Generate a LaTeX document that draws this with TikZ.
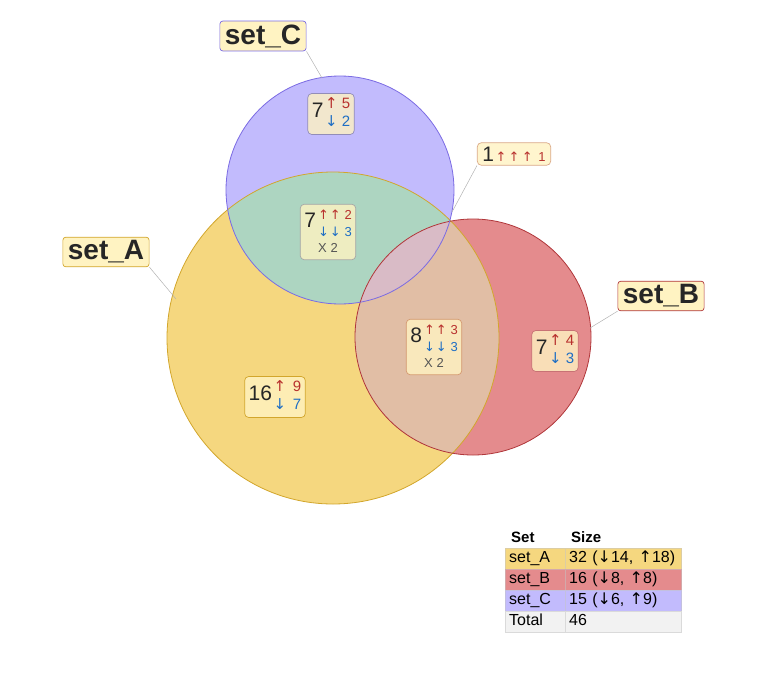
\documentclass[tikz,border=0pt]{standalone}
\usepackage{fontspec}
\setmainfont{Liberation Sans}
\newfontfamily\arrfont{DejaVu Sans}
\usetikzlibrary{positioning}

\definecolor{fillA}{HTML}{F5D77F}
\definecolor{fillB}{HTML}{E48B8D}
\definecolor{fillC}{HTML}{C2BBFD}
\definecolor{fillAC}{HTML}{ADD5C1}
\definecolor{fillAB}{HTML}{E1BEA5}
\definecolor{fillABC}{HTML}{D9BBC6}
\definecolor{lineA}{HTML}{D2A62C}
\definecolor{lineB}{HTML}{B0363A}
\definecolor{lineC}{HTML}{7B6BE3}
\definecolor{labelfill}{HTML}{FFF3C2}
\definecolor{upred}{HTML}{B8312E}
\definecolor{dnblue}{HTML}{1E6EC4}
\definecolor{xgrey}{HTML}{555555}
\definecolor{totalfill}{HTML}{F2F2F2}

\tikzstyle{setcircle} = [line width=0.8pt]
\tikzstyle{count} = [rectangle, rounded corners=4pt, fill=labelfill, fill opacity=0.8, text opacity=1, inner xsep=4pt, inner ysep=3pt, line width=0.7pt, text=black!85]
\tikzstyle{setname} = [rectangle, rounded corners=3pt, fill=labelfill, inner xsep=5pt, inner ysep=3.5pt, line width=0.7pt, text=black!85, font=\fontsize{28}{28}\selectfont\bfseries]
\tikzstyle{leader} = [draw=black!30, line width=0.5pt]
\tikzset{cell/.style={rectangle, anchor=north west, draw=#1!80!black!60, fill=#1, minimum height=21pt, text height=11.5pt, text depth=3.5pt, inner xsep=4pt, inner ysep=0pt, align=left, font=\fontsize{16}{16}\selectfont},
  head/.style={rectangle, anchor=west, inner xsep=0pt, font=\fontsize{15}{15}\selectfont\bfseries}}

\newcommand{\circA}{(333,338) circle[radius=166]}
\newcommand{\circB}{(473,337) circle[radius=118]}
\newcommand{\circC}{(340,190) circle[radius=114]}
\newcommand{\num}[1]{{\fontsize{21}{21}\selectfont #1}}
\newcommand{\ups}[2]{\textcolor{upred}{{\arrfont #1} #2}}
\newcommand{\dns}[2]{\textcolor{dnblue}{{\arrfont #1} #2}}
\newcommand{\two}[2]{{\fontsize{15}{17.5}\selectfont\begin{tabular}{@{}l@{}}#1\\#2\end{tabular}}}
\newcommand{\twos}[2]{{\fontsize{13}{17}\selectfont\begin{tabular}{@{}l@{}}#1\\#2\end{tabular}}}
\newcommand{\three}[2]{{\fontsize{13}{15.5}\selectfont\begin{tabular}{@{}c@{}}#1\\[1pt]\textcolor{xgrey}{#2}\end{tabular}}}
\newcommand{\ar}[1]{{\arrfont #1}}

\begin{document}
\begin{tikzpicture}[x=1pt, y=-1pt]
\useasboundingbox (0,0) rectangle (768,672);

% Sets
\fill[fillA] \circA;
\fill[fillB] \circB;
\fill[fillC] \circC;
\begin{scope}
  \clip \circA;
  \fill[fillAC] \circC;
\end{scope}
\begin{scope}
  \clip \circA;
  \fill[fillAB] \circB;
\end{scope}
\begin{scope}
  \clip \circB;
  \fill[fillABC] \circC;
\end{scope}
\draw[setcircle, lineA] \circA;
\draw[setcircle, lineB] \circB;
\draw[setcircle, lineC] \circC;

% Edge points
\coordinate (edgeA) at (176,299);
\coordinate (edgeB) at (590,328);
\coordinate (edgeC) at (322,78);
\coordinate (edgeABC) at (452,212);

% Set names
\node (nameA) [setname, draw=lineA] at (106,252) {set\_A};
\node (nameB) [setname, draw=lineB] at (661,296) {set\_B};
\node (nameC) [setname, draw=lineC] at (263,36) {set\_C};

% Counts
\node (onlyC) [count, draw=lineC!60!black!60] at (331,114) {\num{7}\,\two{\ups{↑}{5}}{\dns{↓}{2}}};
\node (onlyA) [count, draw=lineA] at (275,397) {\num{16}\,\two{\ups{↑}{\,9}}{\dns{↓}{\,7}}};
\node (onlyB) [count, draw=lineB!70] at (555,351) {\num{7}\,\two{\ups{↑}{4}}{\dns{↓}{3}}};
\node (inAC) [count, draw=black!35] at (328,232) {\three{\num{7}\,\twos{\ups{↑\kern1pt↑}{2}}{\dns{↓\kern1pt↓}{3}}}{X 2}};
\node (inABC) [count, draw=lineA!50!lineB!70] at (434,347) {\three{\num{8}\,\twos{\ups{↑\kern1pt↑}{3}}{\dns{↓\kern1pt↓}{3}}}{X 2}};
\node (inBC) [count, draw=lineA!50!lineB!60, inner ysep=4pt, inner xsep=5pt] at (514,154) {\num{1}\,{\fontsize{13}{15}\selectfont\ups{↑\,↑\,↑}{\,1}}};

% Leaders
\draw [leader] (nameA.south east) -- (edgeA);
\draw [leader] (nameB.south west) -- (edgeB);
\draw [leader] (nameC.south east) -- (edgeC);
\draw [leader] (inBC.south west) -- (edgeABC);

% Table
\node (hSet) [head] at (511,537) {Set};
\node (hSize) [head] at (571,537) {Size};
\node (tA) [cell=fillA, text width=52pt] at (505,548) {set\_A};
\node (tAs) [cell=fillA, text width=108pt] at (565,548) {32 (\ar{↓}14, \ar{↑}18)};
\node (tB) [cell=fillB, text width=52pt] at (505,569) {set\_B};
\node (tBs) [cell=fillB, text width=108pt] at (565,569) {16 (\ar{↓}8, \ar{↑}8)};
\node (tC) [cell=fillC, text width=52pt] at (505,590) {set\_C};
\node (tCs) [cell=fillC, text width=108pt] at (565,590) {15 (\ar{↓}6, \ar{↑}9)};
\node (tT) [cell=totalfill, text width=52pt] at (505,611) {Total};
\node (tTs) [cell=totalfill, text width=108pt] at (565,611) {46};

\end{tikzpicture}
\end{document}
